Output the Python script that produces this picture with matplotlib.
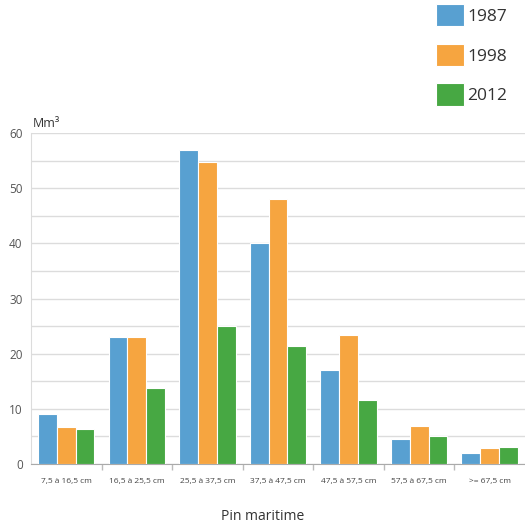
import numpy as np
import matplotlib.pyplot as plt

classes = ["7,5 à 16,5 cm", "16,5 à 25,5 cm", "25,5 à 37,5 cm", "37,5 à 47,5 cm",
           "47,5 à 57,5 cm", "57,5 à 67,5 cm", ">= 67,5 cm"]
years = ["1987", "1998", "2012"]
v1987 = [9.0, 23.0, 57.0, 40.0, 17.0, 4.5, 1.9]
v1998 = [6.7, 23.0, 54.7, 48.0, 23.4, 6.9, 2.8]
v2012 = [6.3, 13.8, 25.0, 21.4, 11.6, 5.0, 3.1]
colors = ["#58a0d1", "#f6a540", "#47a843"]

plt.rcParams['font.family'] = ['Open Sans', 'DejaVu Sans']

fig = plt.figure(figsize=(5.25, 5.26), dpi=100)
ax = fig.add_axes([0.059, 0.118, 0.941, 0.629])

x = np.arange(len(classes))
w = 0.8 / 3
handles = []
for i, (vals, c) in enumerate(zip([v1987, v1998, v2012], colors)):
    b = ax.bar(x + (i - 1) * w, vals, w, color=c, edgecolor="white", linewidth=0.8,
               label=years[i], zorder=3)
    handles.append(b)

ax.set_xlim(-0.5, len(classes) - 0.5)
ax.set_ylim(0, 60)
ax.set_yticks(np.arange(0, 61, 10))
ax.set_yticks(np.arange(0, 61, 5), minor=True)
ax.grid(axis="y", which="both", color="#dcdcdc", linewidth=1, zorder=0)
ax.tick_params(axis="y", which="both", length=0, labelsize=8.5, labelcolor="#555555", pad=6)

ax.set_xticks(x)
ax.set_xticklabels(classes, fontsize=6, color="#444444")
ax.set_xticks(x[:-1] + 0.5, minor=True)
ax.tick_params(axis="x", which="major", length=0, pad=10)
ax.tick_params(axis="x", which="minor", length=4, color="#bbbbbb", width=1)

for s in ["top", "right"]:
    ax.spines[s].set_visible(False)
ax.spines["left"].set_color("#dcdcdc")
ax.spines["bottom"].set_color("#aaaaaa")

ax.text(0.003, 1.008, "Mm³", transform=ax.transAxes, fontsize=9, color="#333333",
        ha="left", va="bottom")
fig.text(0.5, 0.003, "Pin maritime", ha="center", va="bottom", fontsize=10, color="#333333")

fig.legend(handles=handles, labels=years, loc="upper left",
           bbox_to_anchor=(436 / 525, 1 - 4 / 526),
           frameon=False, fontsize=12.5, handlelength=1.6, handleheight=1.6,
           labelspacing=1.0, handletextpad=0.2, borderaxespad=0, borderpad=0,
           labelcolor="#333333")

fig.savefig("out.png", dpi=100, facecolor="white")
